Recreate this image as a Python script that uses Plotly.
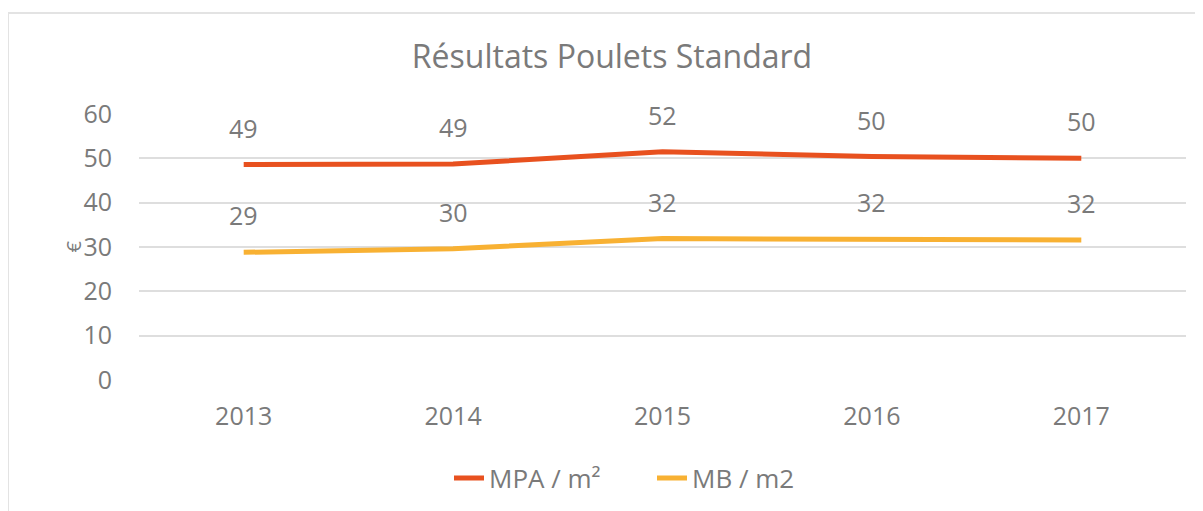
import plotly.graph_objects as go

years = ["2013", "2014", "2015", "2016", "2017"]
mpa_values = [48.6, 48.7, 51.5, 50.4, 50.0]
mb_values = [28.8, 29.6, 31.9, 31.8, 31.6]
mpa_labels = ["49", "49", "52", "50", "50"]
mb_labels = ["29", "30", "32", "32", "32"]
y_ticks = [0, 10, 20, 30, 40, 50, 60]

W, H = 1203, 511
OFF = 8  # page body margin
# screen-space plot area: x 139..1186, y 114..380
L = 139 - OFF
R = W - (1186 - OFF)
T = 114 - OFF
B = H - (380 - OFF)
PW, PH = W - L - R, H - T - B

MPA_COLOR = "#E8511F"
MB_COLOR = "#F8B133"
TEXT = "#7a7a7a"
FONT = "Open Sans"


def px(xs):
    return (xs - OFF - L) / PW


def py(ys):
    return (H - B - (ys - OFF)) / PH


fig = go.Figure()
fig.add_trace(go.Scatter(x=years, y=mpa_values, mode="lines", name="MPA / m²",
                         line=dict(color=MPA_COLOR, width=5)))
fig.add_trace(go.Scatter(x=years, y=mb_values, mode="lines", name="MB / m2",
                         line=dict(color=MB_COLOR, width=5)))

annotations = []
for i, (y, t) in enumerate(zip(mpa_values, mpa_labels)):
    annotations.append(dict(x=i, y=y, xref="x", yref="y", text=t, showarrow=False, yshift=37,
                            font=dict(size=25, color=TEXT, family=FONT)))
for i, (y, t) in enumerate(zip(mb_values, mb_labels)):
    annotations.append(dict(x=i, y=y, xref="x", yref="y", text=t, showarrow=False, yshift=37,
                            font=dict(size=25, color=TEXT, family=FONT)))
annotations.append(dict(xref="paper", yref="paper", x=px(57), y=py(247),
                        text="€", textangle=-90, showarrow=False,
                        font=dict(size=20, color=TEXT, family=FONT)))

shapes = [
    dict(type="line", xref="paper", yref="paper",
         x0=px(8), x1=px(8), y0=py(13), y1=py(530),
         line=dict(color="#e3e3e3", width=2)),
    dict(type="line", xref="paper", yref="paper",
         x0=px(8), x1=px(1215), y0=py(13), y1=py(13),
         line=dict(color="#e3e3e3", width=2)),
]

fig.update_layout(
    width=W, height=H,
    margin=dict(l=L, r=R, t=T, b=B),
    paper_bgcolor="white", plot_bgcolor="white",
    font=dict(family=FONT, color=TEXT),
    title=dict(text="Résultats Poulets Standard", x=(612 - OFF) / W, xref="container",
               xanchor="center", y=1 - (57 - OFF) / H, yanchor="middle",
               font=dict(size=32, color=TEXT, family=FONT)),
    xaxis=dict(type="category", range=[-0.5, 4.5], showgrid=False, zeroline=False,
               showline=False, ticks="outside", ticklen=14, tickcolor="rgba(0,0,0,0)",
               tickfont=dict(size=25, color=TEXT, family=FONT)),
    yaxis=dict(range=[0, 60], tickvals=y_ticks, showgrid=True, gridcolor="#dedede", gridwidth=2,
               zeroline=False, showline=False, ticks="outside", ticklen=21,
               tickcolor="rgba(0,0,0,0)", tickfont=dict(size=25, color=TEXT, family=FONT)),
    legend=dict(orientation="h", x=(652 - OFF) / W, xanchor="center", xref="container",
                y=(H - (478 - OFF)) / H, yref="container", yanchor="middle",
                font=dict(size=26, color=TEXT, family=FONT), entrywidth=158, entrywidthmode="pixels"),
    annotations=annotations,
    shapes=shapes,
    showlegend=True,
)

fig.write_html("out.html")
